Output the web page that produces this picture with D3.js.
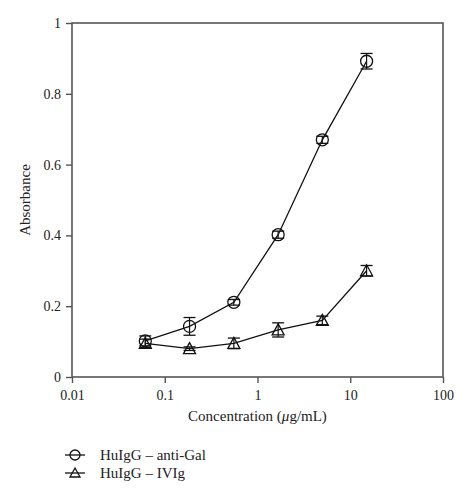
<!DOCTYPE html>
<html><head><meta charset="utf-8">
<script src="https://cdn.jsdelivr.net/npm/d3@7"></script>
<style>body{margin:0;background:#fff}svg{display:block}</style>
</head><body>
<svg id="c" width="473" height="500"></svg>
<script>
const concentrations = [0.0617, 0.185, 0.556, 1.67, 5, 15];
const antiGal = [0.102, 0.143, 0.211, 0.402, 0.670, 0.892];
const antiGalErr = [0.014, 0.025, 0.008, 0.010, 0.010, 0.022];
const ivig = [0.095, 0.080, 0.095, 0.133, 0.160, 0.300];
const ivigErr = [0.012, 0.005, 0.015, 0.020, 0.012, 0.015];
const xTicks = [0.01, 0.1, 1, 10, 100];
const yTicks = [0, 0.2, 0.4, 0.6, 0.8, 1];
const seriesNames = ["HuIgG \u2013 anti-Gal", "HuIgG \u2013 IVIg"];

const svg = d3.select("#c");
const L = 72, R = 443, T = 23, B = 377;
const x = d3.scaleLog().domain([0.01, 100]).range([L, R]);
const y = d3.scaleLinear().domain([0, 1]).range([B, T]);
const font = "'Liberation Serif', 'DejaVu Serif', serif";
const axisCol = "#555";

// frame
svg.append("rect").attr("x", L).attr("y", T).attr("width", R - L).attr("height", B - T)
  .attr("fill", "none").attr("stroke", axisCol).attr("stroke-width", 1.6);

const xAxis = svg.append("g").attr("transform", `translate(0,${B})`)
  .call(d3.axisBottom(x).tickValues(xTicks).tickFormat(d => String(d)).tickSize(6).tickSizeOuter(0));
const yAxis = svg.append("g").attr("transform", `translate(${L},0)`)
  .call(d3.axisLeft(y).tickValues(yTicks).tickFormat(d => String(d)).tickSize(6).tickSizeOuter(0));
[xAxis, yAxis].forEach(g => {
  g.select(".domain").remove();
  g.selectAll("line").attr("stroke", axisCol).attr("stroke-width", 1.4);
  g.selectAll("text").attr("font-family", font).attr("font-size", 14).attr("fill", "#222");
});
xAxis.selectAll("text").attr("dy", "1.0em");
yAxis.selectAll("text").attr("dx", "-0.15em");

svg.append("text").attr("x", (L + R) / 2).attr("y", 421).attr("text-anchor", "middle")
  .attr("font-family", font).attr("font-size", 15).attr("fill", "#222")
  .html("Concentration (<tspan font-style='italic'>\u03bc</tspan>g/mL)");
svg.append("text").attr("transform", `translate(30,${(T + B) / 2}) rotate(-90)`)
  .attr("text-anchor", "middle").attr("font-family", font).attr("font-size", 15).attr("fill", "#222")
  .text("Absorbance");

const line = d3.line().x(d => x(d[0])).y(d => y(d[1]));
const plot = svg.append("g");

function drawSeries(vals, errs, kind) {
  const pts = concentrations.map((c, i) => [c, vals[i], errs[i]]);
  plot.append("path").datum(pts).attr("d", line).attr("fill", "none").attr("stroke", "#111").attr("stroke-width", 1.3);
  const g = plot.selectAll(null).data(pts).enter().append("g");
  g.append("line").attr("x1", d => x(d[0])).attr("x2", d => x(d[0]))
    .attr("y1", d => y(d[1] - d[2])).attr("y2", d => y(d[1] + d[2])).attr("stroke", "#111").attr("stroke-width", 1.2);
  [-1, 1].forEach(s => {
    g.append("line").attr("x1", d => x(d[0]) - 6).attr("x2", d => x(d[0]) + 6)
      .attr("y1", d => y(d[1] + s * d[2])).attr("y2", d => y(d[1] + s * d[2])).attr("stroke", "#111").attr("stroke-width", 1.3);
  });
  if (kind === "circle") {
    g.append("circle").attr("cx", d => x(d[0])).attr("cy", d => y(d[1])).attr("r", 6)
      .attr("fill", "none").attr("stroke", "#111").attr("stroke-width", 1.3);
  } else {
    g.append("path").attr("transform", d => `translate(${x(d[0])},${y(d[1])})`)
      .attr("d", "M0,-6L6,5L-6,5Z").attr("fill", "none").attr("stroke", "#111").attr("stroke-width", 1.3);
  }
}
drawSeries(antiGal, antiGalErr, "circle");
drawSeries(ivig, ivigErr, "triangle");

// legend
const leg = svg.append("g");
seriesNames.forEach((name, i) => {
  const ly = 455 + i * 18;
  leg.append("line").attr("x1", 65).attr("x2", 85).attr("y1", ly).attr("y2", ly).attr("stroke", "#111").attr("stroke-width", 1.3);
  if (i === 0) {
    leg.append("circle").attr("cx", 75).attr("cy", ly).attr("r", 5).attr("fill", "none").attr("stroke", "#111").attr("stroke-width", 1.3);
  } else {
    leg.append("path").attr("transform", `translate(75,${ly})`).attr("d", "M0,-5L5,4L-5,4Z")
      .attr("fill", "none").attr("stroke", "#111").attr("stroke-width", 1.3);
  }
  leg.append("text").attr("x", 100).attr("y", ly + 4.5).attr("font-family", font).attr("font-size", 15).attr("fill", "#222").text(name);
});
</script>
</body></html>
